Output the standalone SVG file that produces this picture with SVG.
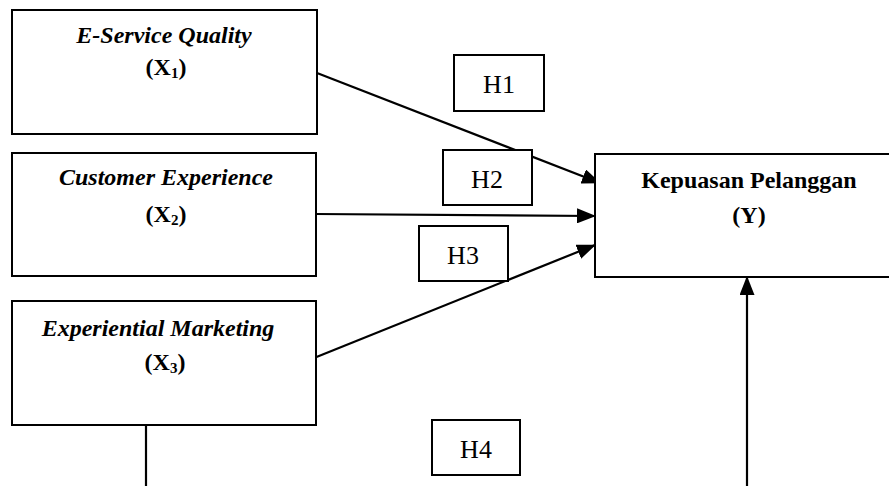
<svg xmlns="http://www.w3.org/2000/svg" width="889" height="486" viewBox="0 0 889 486">
<defs>
<style>
.box{fill:#fff;stroke:#000;stroke-width:2}
.ln{fill:none;stroke:#000;stroke-width:2.2}
.t{font-family:"Liberation Serif","Times New Roman",serif;font-weight:bold;font-size:24px;text-anchor:middle;fill:#000}
.it{font-style:italic}
.h{font-family:"Liberation Serif","Times New Roman",serif;font-size:26px;text-anchor:middle;fill:#000}
</style>
<marker id="ah" markerUnits="userSpaceOnUse" markerWidth="19" markerHeight="15" viewBox="0 0 19 15" refX="18" refY="7.5" orient="auto">
<path d="M0,0 L19,7.5 L0,15 Z" fill="#000"/>
</marker>
</defs>
<g id="connectors">
<line class="ln" x1="317" y1="73" x2="600" y2="183" marker-end="url(#ah)"/>
<line class="ln" x1="316" y1="214" x2="595" y2="216" marker-end="url(#ah)"/>
<line class="ln" x1="314" y1="358" x2="595" y2="245" marker-end="url(#ah)"/>
<line class="ln" x1="146" y1="425" x2="146" y2="486"/>
<line class="ln" x1="747" y1="486" x2="747" y2="277" marker-end="url(#ah)"/>
</g>
<g id="x1">
<rect class="box" x="12" y="10" width="305" height="124"/>
<text class="t it" x="164" y="43">E-Service Quality</text>
<text class="t" x="166" y="75">(X<tspan font-size="15" dy="3">1</tspan><tspan dy="-3">)</tspan></text>
</g>
<g id="x2">
<rect class="box" x="12" y="153" width="304" height="123"/>
<text class="t it" x="166" y="185">Customer Experience</text>
<text class="t" x="166" y="222">(X<tspan font-size="15" dy="3">2</tspan><tspan dy="-3">)</tspan></text>
</g>
<g id="x3">
<rect class="box" x="12" y="301" width="304" height="124"/>
<text class="t it" x="158" y="336">Experiential Marketing</text>
<text class="t" x="165" y="370">(X<tspan font-size="15" dy="3">3</tspan><tspan dy="-3">)</tspan></text>
</g>
<g id="y">
<rect class="box" x="595" y="154" width="308" height="123"/>
<text class="t" x="749" y="188">Kepuasan Pelanggan</text>
<text class="t" x="749" y="223">(Y)</text>
</g>
<g id="h1">
<rect class="box" x="454" y="55" width="90" height="56"/>
<text class="h" x="499" y="93">H1</text>
</g>
<g id="h2">
<rect class="box" x="443" y="150" width="89" height="55"/>
<text class="h" x="487" y="188">H2</text>
</g>
<g id="h3">
<rect class="box" x="419" y="226" width="89" height="55"/>
<text class="h" x="463" y="264">H3</text>
</g>
<g id="h4">
<rect class="box" x="432" y="420" width="88" height="55"/>
<text class="h" x="476" y="458">H4</text>
</g>
</svg>
